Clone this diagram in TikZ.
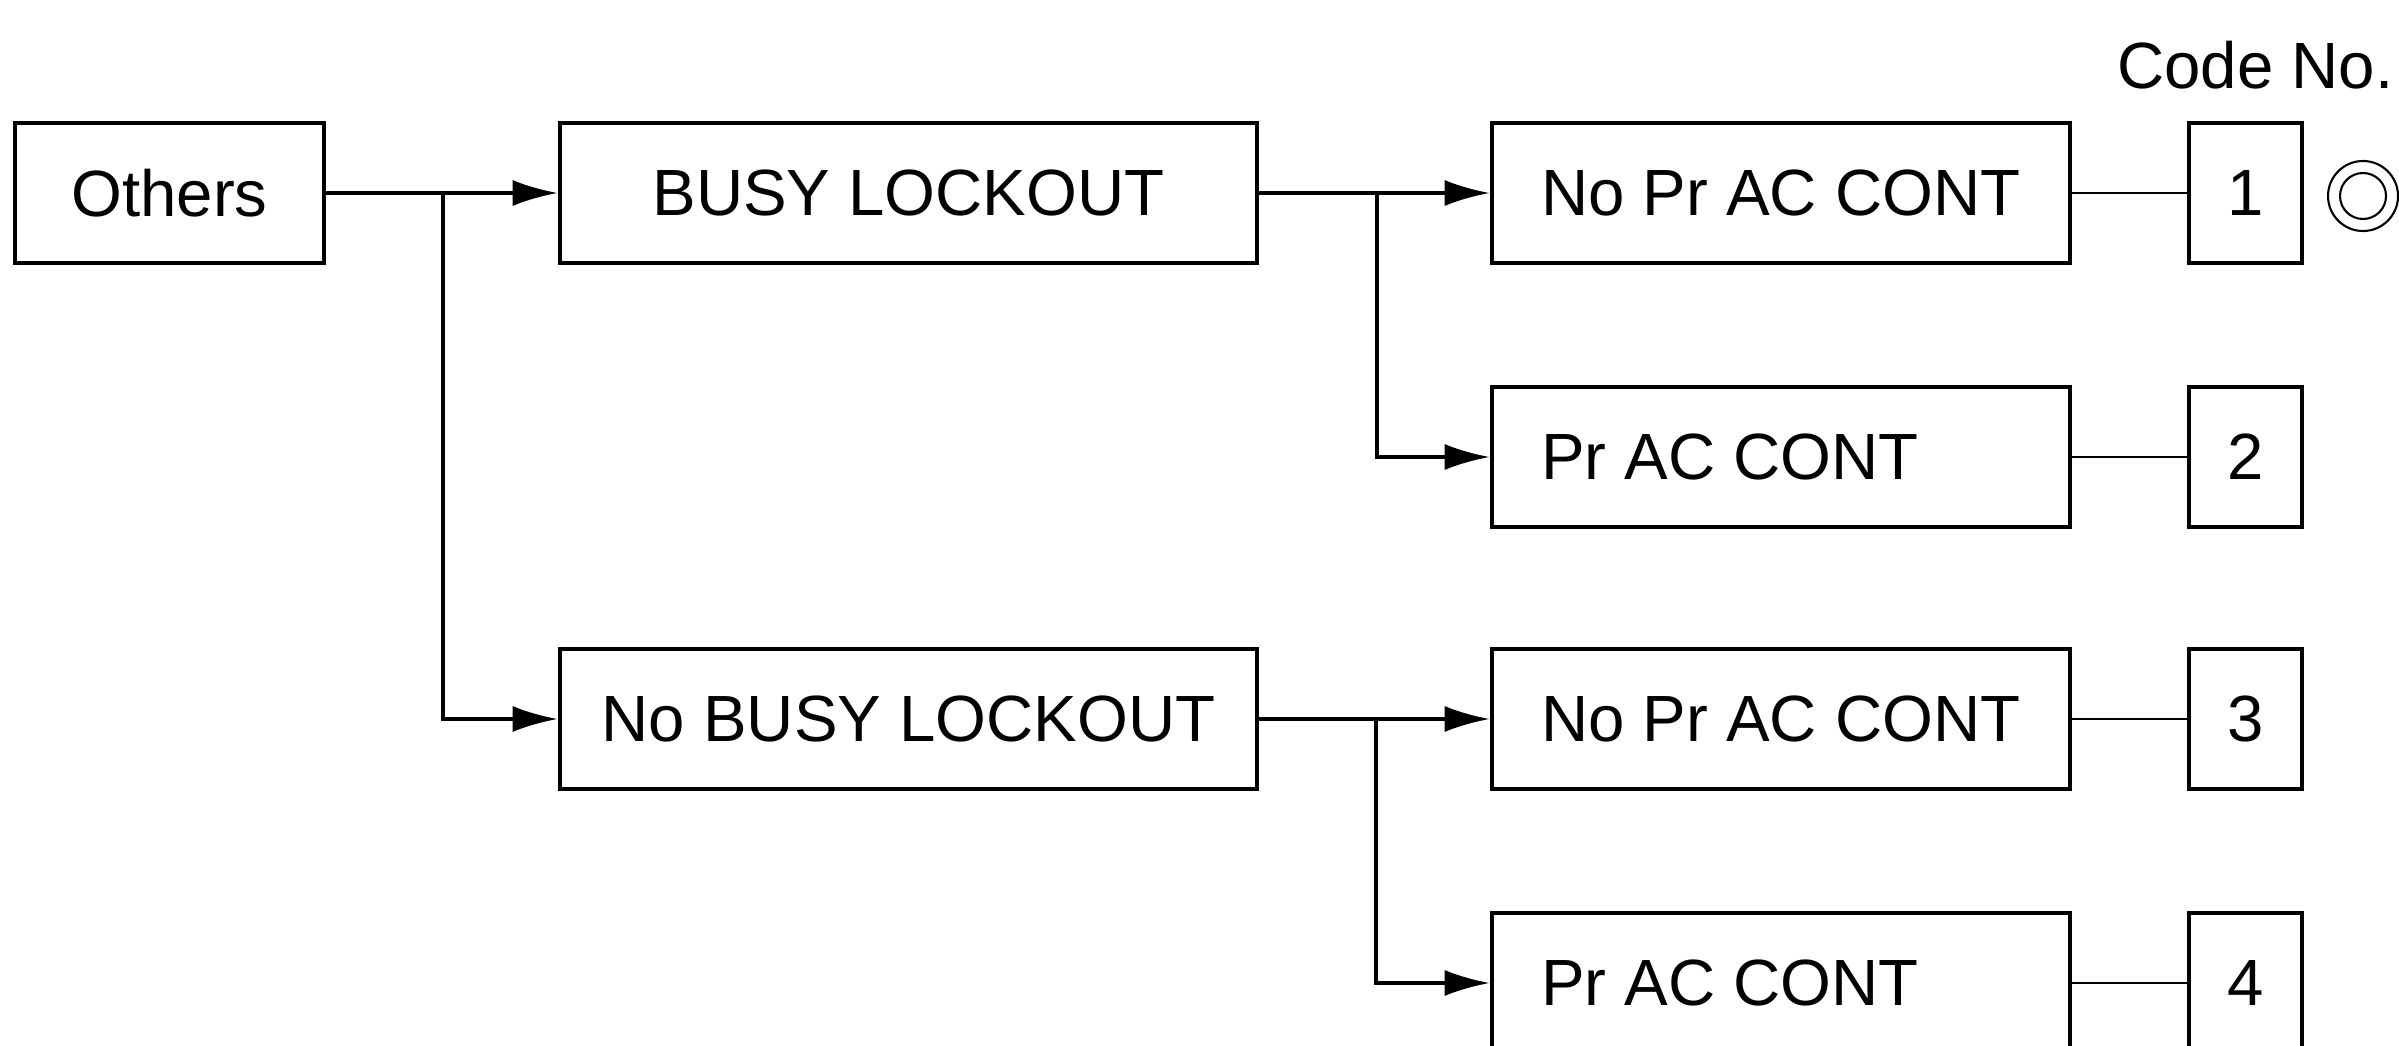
\documentclass[tikz,border=0pt]{standalone}
\usepackage{fontspec}
\setmainfont{Liberation Sans}
\usetikzlibrary{arrows.meta}

\newcommand{\leftlabel}[1]{\makebox[4.8cm][l]{#1}}

\begin{document}
\begin{tikzpicture}[
            >={Latex[length=4.5mm, width=2.6mm]}, % arrow head style
            line width=1pt, % line style
            font=\fontsize{18.6}{22}\selectfont,
            box/.style = {draw, rectangle, line width=1.3pt, inner sep=0pt,
            minimum height=1.4cm},
            modebox/.style = {box, minimum width=5.78cm},
            codebox/.style = {box, minimum width=1.13cm},
            codeline/.style = {line width=0.7pt}
            ]
            \useasboundingbox (0,0) rectangle (23.99,-10.45);

            \node[box, minimum width=3.09cm] (others) at (1.695,-1.93) {Others};
            \node[box, minimum width=6.97cm] (busy) at (9.085,-1.93) {BUSY LOCKOUT};
            \node[box, minimum width=6.97cm] (nobusy) at (9.085,-7.19) {No BUSY LOCKOUT};

            \node[modebox] (r1) at (17.81,-1.93) {\leftlabel{No Pr AC CONT}};
            \node[modebox] (r2) at (17.81,-4.57) {\leftlabel{Pr AC CONT}};
            \node[modebox] (r3) at (17.81,-7.19) {\leftlabel{No Pr AC CONT}};
            \node[modebox] (r4) at (17.81,-9.83) {\leftlabel{Pr AC CONT}};

            \node[codebox] (c1) at (22.455,-1.93) {1};
            \node[codebox] (c2) at (22.455,-4.57) {2};
            \node[codebox] (c3) at (22.455,-7.19) {3};
            \node[codebox] (c4) at (22.455,-9.83) {4};

            \node (codeno) at (22.555,-0.65) {Code No.};

            % double circle next to code 1
            \coordinate (sel) at (23.63,-1.96);
            \draw[line width=0.6pt] (sel) circle (0.35) (sel) circle (0.23);

            % branch points
            \coordinate (j1) at (4.43,-1.93);
            \coordinate (j2) at (13.77,-1.93);
            \coordinate (j3) at (13.76,-7.19);

            \draw[->] (others.east) -- (busy.west);
            \draw[->] (j1) |- (nobusy.west);
            \draw[->] (busy.east) -- (r1.west);
            \draw[->] (j2) |- (r2.west);
            \draw[->] (nobusy.east) -- (r3.west);
            \draw[->] (j3) |- (r4.west);

            \draw[codeline] (r1.east) -- (c1.west);
            \draw[codeline] (r2.east) -- (c2.west);
            \draw[codeline] (r3.east) -- (c3.west);
            \draw[codeline] (r4.east) -- (c4.west);
        \end{tikzpicture}
\end{document}
